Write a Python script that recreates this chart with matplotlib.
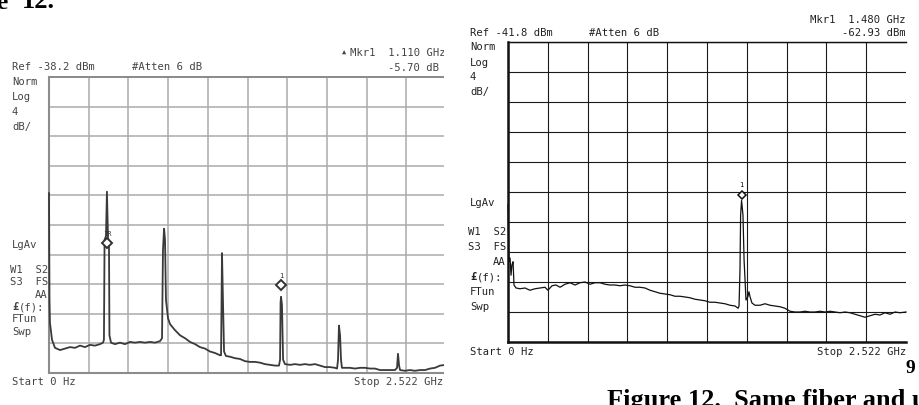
import numpy as np
import matplotlib.pyplot as plt
from matplotlib.patches import Rectangle

W, H = 919, 405

span_ghz = 2.522
db_per_div = 4

# left screen (Ref -38.2 dBm), trace
left_ref = -38.2
left_freq = [0.000, 0.003, 0.006, 0.019, 0.038, 0.070, 0.102, 0.133, 0.165, 0.197,
             0.229, 0.260, 0.292, 0.324, 0.343, 0.349, 0.353, 0.362, 0.368, 0.375,
             0.381, 0.384, 0.394, 0.419, 0.451, 0.483, 0.515, 0.546, 0.578, 0.610,
             0.642, 0.673, 0.705, 0.718, 0.724, 0.731, 0.737, 0.743, 0.756, 0.769,
             0.800, 0.832, 0.864, 0.896, 0.928, 0.959, 0.991, 1.023, 1.055, 1.086,
             1.093, 1.099, 1.105, 1.112, 1.124, 1.150, 1.182, 1.213, 1.245, 1.277,
             1.309, 1.340, 1.372, 1.404, 1.436, 1.461, 1.468, 1.471, 1.474, 1.480,
             1.487, 1.499, 1.531, 1.563, 1.595, 1.626, 1.658, 1.690, 1.722, 1.753,
             1.785, 1.817, 1.830, 1.836, 1.842, 1.849, 1.855, 1.861, 1.880, 1.912,
             1.944, 1.976, 2.008, 2.039, 2.071, 2.103, 2.135, 2.166, 2.198, 2.211,
             2.217, 2.224, 2.230, 2.262, 2.293, 2.325, 2.357, 2.389, 2.421, 2.452,
             2.484, 2.522]
left_level = [-53.9, -68.3, -71.4, -73.7, -74.8, -75.1, -74.9, -74.7, -74.8, -74.5,
              -74.7, -74.4, -74.5, -74.3, -74.1, -73.7, -60.2, -59.7, -53.7, -60.0,
              -60.5, -73.1, -74.1, -74.3, -74.1, -74.3, -74.0, -74.1, -74.0, -74.1,
              -74.0, -74.1, -73.9, -73.5, -61.6, -58.7, -60.2, -68.3, -70.8, -71.6,
              -72.4, -73.1, -73.5, -74.0, -74.3, -74.7, -74.9, -75.3, -75.5, -75.8,
              -75.8, -62.0, -68.3, -75.3, -75.9, -76.0, -76.2, -76.3, -76.6, -76.7,
              -76.7, -76.8, -77.0, -77.1, -77.2, -77.2, -76.4, -68.7, -67.9, -69.0,
              -76.4, -77.0, -77.1, -77.0, -77.1, -77.0, -77.1, -77.0, -77.2, -77.4,
              -77.4, -77.5, -77.6, -76.4, -71.8, -73.1, -76.4, -77.5, -77.5, -77.5,
              -77.6, -77.5, -77.5, -77.6, -77.6, -77.8, -77.8, -77.8, -77.8, -77.5,
              -75.6, -77.2, -77.8, -77.9, -77.8, -77.9, -77.8, -77.8, -77.6, -77.5,
              -77.2, -77.1]
left_mkr_freq = [0.368, 1.474]
left_mkr_level = [-60.6, -66.3]
left_mkr_label = ['1R', '1']

# right screen (Ref -41.8 dBm)
right_ref = -41.8
right_freq = [0.000, 0.003, 0.006, 0.013, 0.019, 0.025, 0.032, 0.038, 0.051, 0.076,
              0.108, 0.139, 0.171, 0.203, 0.234, 0.253, 0.279, 0.304, 0.330, 0.361,
              0.393, 0.425, 0.456, 0.488, 0.520, 0.551, 0.583, 0.615, 0.646, 0.678,
              0.710, 0.741, 0.773, 0.805, 0.836, 0.868, 0.900, 0.932, 0.963, 0.995,
              1.027, 1.058, 1.090, 1.122, 1.153, 1.185, 1.217, 1.248, 1.280, 1.312,
              1.343, 1.375, 1.407, 1.439, 1.458, 1.464, 1.470, 1.474, 1.480, 1.489,
              1.496, 1.502, 1.508, 1.521, 1.527, 1.534, 1.546, 1.565, 1.597, 1.629,
              1.660, 1.692, 1.724, 1.755, 1.787, 1.819, 1.850, 1.882, 1.914, 1.945,
              1.977, 2.009, 2.041, 2.072, 2.104, 2.136, 2.167, 2.199, 2.231, 2.262,
              2.294, 2.326, 2.357, 2.389, 2.421, 2.452, 2.484, 2.522]
right_level = [-63.5, -66.9, -71.1, -70.6, -72.9, -71.5, -71.1, -74.2, -74.6, -74.7,
               -74.6, -74.9, -74.7, -74.6, -74.5, -74.9, -74.3, -74.2, -74.5, -74.1,
               -73.9, -74.2, -73.9, -73.8, -74.1, -73.9, -73.9, -74.1, -74.2, -74.2,
               -74.3, -74.2, -74.3, -74.5, -74.5, -74.6, -74.9, -75.1, -75.3, -75.4,
               -75.5, -75.7, -75.7, -75.8, -75.9, -76.1, -76.2, -76.3, -76.5, -76.5,
               -76.6, -76.7, -76.9, -77.0, -77.3, -77.0, -72.2, -64.9, -62.93, -64.9,
               -70.9, -73.5, -76.2, -75.7, -75.1, -75.8, -76.6, -76.9, -76.9, -76.7,
               -76.9, -77.0, -77.1, -77.3, -77.7, -77.8, -77.8, -77.7, -77.8, -77.8,
               -77.7, -77.8, -77.7, -77.8, -77.9, -77.8, -77.9, -78.1, -78.3, -78.5,
               -78.3, -78.1, -78.2, -77.9, -78.1, -77.8, -77.9, -77.8]
right_mkr_freq = [1.480]
right_mkr_level = [-62.2]
right_mkr_label = ['1']

assert len(left_freq) == len(left_level)
assert len(right_freq) == len(right_level)

side_labels = ['Norm', 'Log', '4', 'dB/', 'LgAv', 'FTun', 'Swp']
side_labels_r = ['W1  S2', 'S3  FS', 'AA']

fig = plt.figure(figsize=(W / 100, H / 100), dpi=100)
fig.patch.set_facecolor('white')


def px_axes(x0, y0, x1, y1):
    return fig.add_axes([x0 / W, 1 - y1 / H, (x1 - x0) / W, (y1 - y0) / H])


def txt(x, y, s, **kw):
    kw.setdefault('fontsize', 7.6)
    kw.setdefault('family', 'DejaVu Sans Mono')
    kw.setdefault('va', 'center')
    kw.setdefault('color', '#222222')
    fig.text(x / W, 1 - y / H, s, **kw)


def screen(ax, ref, grid_color, frame_color, grid_lw, frame_lw):
    ax.set_xlim(0, span_ghz)
    ax.set_ylim(ref - 10 * db_per_div, ref)
    ax.set_xticks(np.linspace(0, span_ghz, 11)[:-1])
    ax.set_yticks(np.linspace(ref - 10 * db_per_div, ref, 11))
    ax.tick_params(length=0, labelbottom=False, labelleft=False)
    ax.grid(True, color=grid_color, lw=grid_lw)
    ax.set_axisbelow(True)
    for s in ['left', 'bottom', 'top']:
        ax.spines[s].set_color(frame_color)
        ax.spines[s].set_linewidth(frame_lw)
    ax.spines['top'].set_linewidth(grid_lw * 1.3)
    ax.spines['right'].set_visible(False)


# left screen
axl = px_axes(49, 77, 446, 373)
screen(axl, left_ref, '#ababab', '#8c8c8c', 1.1, 1.5)
axl.plot(left_freq, left_level, color='#3a3a3a', lw=1.3, zorder=3, clip_on=False)
axl.plot(left_mkr_freq, left_mkr_level, 'D', ms=5.5, mfc='white', mec='#333333',
         mew=1.4, zorder=4)
for f, l, lab in zip(left_mkr_freq, left_mkr_level, left_mkr_label):
    axl.annotate(lab, (f, l), xytext=(0, 6.5), textcoords='offset points',
                 ha='center', va='center', fontsize=5, family='DejaVu Sans Mono',
                 color='#333333')

# right screen
axr = px_axes(508, 42, 906, 342)
screen(axr, right_ref, '#1a1a1a', '#111111', 0.8, 1.8)
axr.plot(right_freq, right_level, color='#111111', lw=0.9, zorder=3, clip_on=False)
axr.plot(right_mkr_freq, right_mkr_level, 'D', ms=4.3, mfc='white', mec='#111111',
         mew=1.1, zorder=4)
for f, l, lab in zip(right_mkr_freq, right_mkr_level, right_mkr_label):
    axr.annotate(lab, (f, l), xytext=(0, 7), textcoords='offset points',
                 ha='center', va='center', fontsize=5, family='DejaVu Sans Mono',
                 color='#111111')

# instrument annotations, left
grey = '#444444'
txt(12, 67, 'Ref -38.2 dBm', color=grey)
txt(132, 67, '#Atten 6 dB', color=grey)
txt(342, 53, '\u25b2', fontsize=5, color=grey)
txt(446, 53, 'Mkr1  1.110 GHz', ha='right', color=grey)
txt(439, 68, '-5.70 dB', ha='right', color=grey)
for lab, y in zip(side_labels, [82, 97, 112, 127, 245, 319, 332]):
    txt(12, y, lab, color=grey)
for lab, y in zip(side_labels_r, [270, 282, 295]):
    txt(48, y, lab, ha='right', color=grey)
txt(12, 307, '\u00a3', weight='bold', color=grey)
txt(18.5, 307, '(f):', color=grey)
txt(12, 382, 'Start 0 Hz', color=grey)
txt(443, 382, 'Stop 2.522 GHz', ha='right', color=grey)

# instrument annotations, right
txt(470, 33, 'Ref -41.8 dBm')
txt(589, 33, '#Atten 6 dB')
txt(906, 20, 'Mkr1  1.480 GHz', ha='right')
txt(906, 33, '-62.93 dBm', ha='right')
for lab, y in zip(side_labels, [47, 63, 77, 92, 203, 292, 307]):
    txt(470, y, lab)
for lab, y in zip(side_labels_r, [232, 247, 262]):
    txt(506, y, lab, ha='right')
txt(470, 277, '\u00a3', weight='bold')
txt(476.5, 277, '(f):')
txt(470, 352, 'Start 0 Hz')
txt(906, 352, 'Stop 2.522 GHz', ha='right')

# the scan is cropped just right of the left screen
fig.add_artist(Rectangle((444 / W, 0), (462 - 444) / W, 1, transform=fig.transFigure,
                         facecolor='white', edgecolor='none', zorder=10))

# page text around the screenshots
serif = dict(family='Liberation Serif', weight='bold', fontsize=19, va='baseline',
             color='black')
txt(9, 8.5, 'Figure', ha='right', **serif)
txt(22, 8.5, '12.', ha='left', **serif)
txt(906, 373, '9', ha='left', family='Liberation Serif', weight='bold', fontsize=14,
    va='baseline', color='black')
txt(607, 407, 'Figure 12.  Same fiber and u', ha='left', **serif)

fig.savefig('out.png', dpi=100, facecolor='white')
